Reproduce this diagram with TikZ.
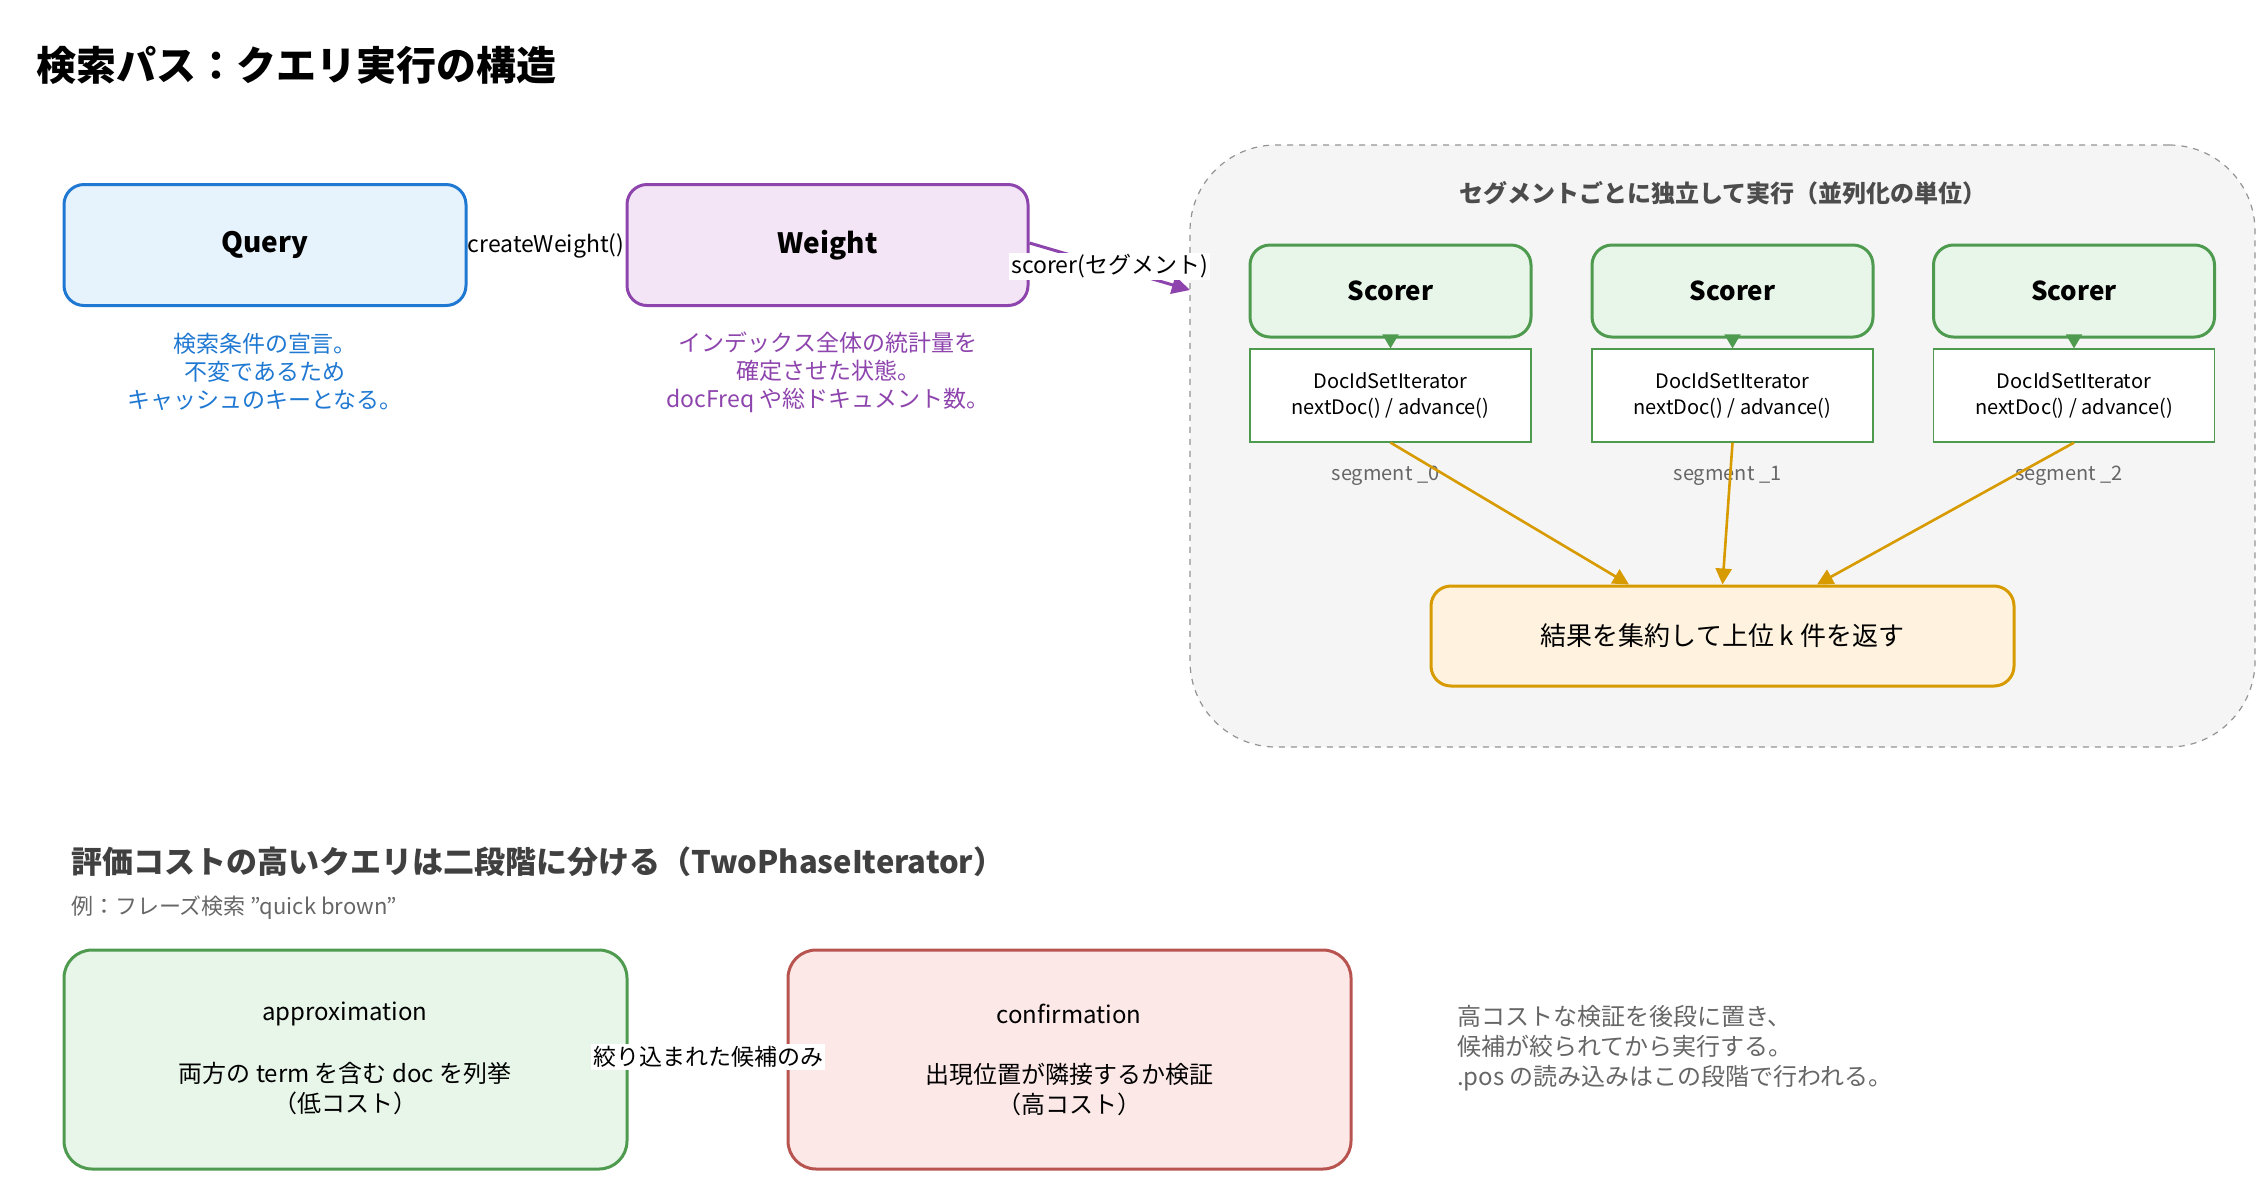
\documentclass[tikz,border=0pt]{standalone}
\usepackage{fontspec}
\setmainfont{Noto Sans CJK JP}
\usetikzlibrary{arrows.meta}
\definecolor{qb}{HTML}{1F78D1}\definecolor{qf}{HTML}{E6F2FC}
\definecolor{wb}{HTML}{8E44AD}\definecolor{wf}{HTML}{F3E5F5}
\definecolor{gb}{HTML}{4E9A4E}\definecolor{gf}{HTML}{E8F5E9}
\definecolor{ob}{HTML}{D79B00}\definecolor{of}{HTML}{FFF3E0}
\definecolor{rb}{HTML}{B85450}\definecolor{rf}{HTML}{FDE8E8}
\definecolor{tx}{HTML}{666666}
\begin{document}
\begin{tikzpicture}[x=0.5pt,y=-0.5pt,
 box/.style={rounded corners=10pt,line width=1.5pt,inner sep=0},
 lbl/.style={font=\fontsize{11.5}{14}\selectfont,align=center},
 it/.style={draw=gb,fill=white,line width=0.6pt,inner sep=0,font=\fontsize{10}{13}\selectfont,align=center},
 oa/.style={draw=ob,line width=1.3pt,-{Triangle[length=8pt,width=8pt]}}]
\useasboundingbox (0,0) rectangle (2259,1180);
\node[anchor=west,font=\bfseries\fontsize{20}{24}\selectfont] (title) at (29,65) {検索パス：クエリ実行の構造};
\node[box,draw=qb,fill=qf,minimum width=201pt,minimum height=60.5pt,font=\bfseries\fontsize{14}{17}\selectfont] (q) at (265,245) {Query};
\node[box,draw=wb,fill=wf,minimum width=200.5pt,minimum height=60.5pt,font=\bfseries\fontsize{14}{17}\selectfont] (w) at (827.5,245) {Weight};
\node[lbl,text=qb] (qc) at (265,372) {検索条件の宣言。\\不変であるため\\キャッシュのキーとなる。};
\node[lbl,text=wb] (wc) at (828,372) {インデックス全体の統計量を\\確定させた状態。\\docFreq や総ドキュメント数。};
\node[lbl] (cw) at (546,246) {createWeight()};
\node[draw=tx!70,dashed,fill=black!4,rounded corners=43pt,minimum width=532.5pt,minimum height=301pt,inner sep=0,line width=0.6pt] (grp) at (1722.5,446) {};
\node[font=\bfseries\fontsize{12}{14}\selectfont,text=black!70] (gt) at (1723,193) {セグメントごとに独立して実行（並列化の単位）};
\coordinate (gin) at (1190,290);
\draw[draw=wb,line width=1.5pt,-{Triangle[length=9pt,width=9pt]}] (w.east|-0,243) -- (gin) node[midway,fill=white,inner sep=1pt,lbl,text=black] {scorer(セグメント)};
\foreach \i/\x/\s in {1/1390.5/0,2/1732.5/1,3/2074/2}{
 \node[box,draw=gb,fill=gf,minimum width=140.5pt,minimum height=46pt,font=\bfseries\fontsize{13}{16}\selectfont] (s\i) at (\x,291) {Scorer};
 \node[it,minimum width=140.5pt,minimum height=46.5pt] (i\i) at (\x,395.5) {DocIdSetIterator\\nextDoc() / advance()};
 \draw[draw=gb,line width=1pt,-{Triangle[length=7pt,width=8pt]}] (s\i.south) -- (i\i.north);
 \node[font=\fontsize{10}{12}\selectfont,text=tx] (sl\i) at (\x-5,476) {segment \_\s};
}
\node[box,draw=ob,fill=of,minimum width=291.5pt,minimum height=50pt,font=\fontsize{13}{16}\selectfont] (res) at (1722.5,636) {結果を集約して上位 k 件を返す};
\draw[oa] (i1.south) -- (res.north -| 1629,0);
\draw[oa] (i2.south) -- (res.north);
\draw[oa] (i3.south) -- (res.north -| 1817,0);
\node[anchor=west,font=\bfseries\fontsize{15.5}{18}\selectfont,text=black!75] (st) at (64,862) {評価コストの高いクエリは二段階に分ける（TwoPhaseIterator）};
\node[anchor=west,font=\fontsize{11}{13}\selectfont,text=tx] (ex) at (64,908) {例：フレーズ検索 "quick brown"};
\node[box,draw=gb,fill=gf,minimum width=281.5pt,minimum height=109.5pt,rounded corners=14pt] (ap) at (345.5,1059.5) {};
\node[box,draw=rb,fill=rf,minimum width=281.5pt,minimum height=109.5pt,rounded corners=14pt] (cf) at (1069.5,1059.5) {};
\node[lbl,font=\fontsize{12}{15}\selectfont] at (345,1014) {approximation};
\node[lbl,font=\fontsize{12}{15}\selectfont] at (345,1089) {両方の term を含む doc を列挙\\（低コスト）};
\node[lbl,font=\fontsize{12}{15}\selectfont] at (1069,1014) {confirmation};
\node[lbl,font=\fontsize{12}{15}\selectfont] at (1069,1089) {出現位置が隣接するか検証\\（高コスト）};
\node[lbl,fill=white,inner sep=1pt] (nl) at (708,1057) {絞り込まれた候補のみ};
\node[anchor=west,align=left,font=\fontsize{12}{15}\selectfont,text=tx] (note) at (1450,1048) {高コストな検証を後段に置き、\\候補が絞られてから実行する。\\.pos の読み込みはこの段階で行われる。};
\end{tikzpicture}
\end{document}
